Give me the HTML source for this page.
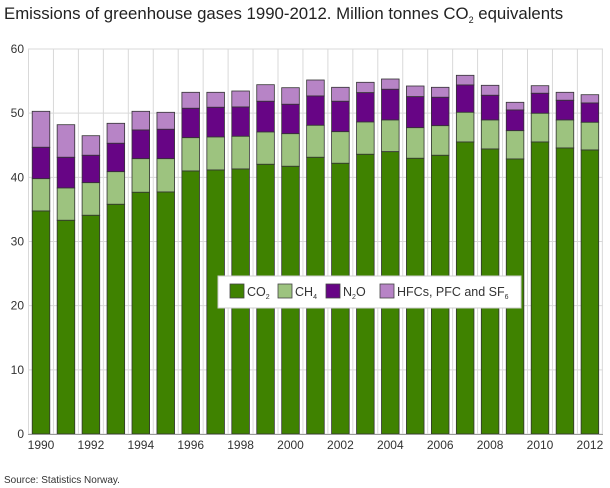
<!DOCTYPE html>
<html><head><meta charset="utf-8"><style>body{margin:0;background:#fff}svg{display:block;font-family:"Liberation Sans",sans-serif}</style></head><body>
<svg width="610" height="488" viewBox="0 0 610 488">
<text x="4" y="19" font-size="16.8" fill="#222">Emissions of greenhouse gases 1990-2012. Million tonnes CO<tspan font-size="9" dy="4">2</tspan><tspan dy="-4"> equivalents</tspan></text>
<g id="grid" stroke="#d9d9d9" stroke-width="1"></g>
<g id="bars" stroke="#333" stroke-width="0.8"></g>
<line x1="28" y1="434.5" x2="603" y2="434.5" stroke="#999" stroke-width="1"/>
<g id="labels" font-size="12" fill="#333"></g>
<rect x="218" y="276" width="303" height="32" fill="#fff" stroke="#ccc"/>
<g stroke="#444" stroke-width="0.8">
<rect x="230" y="284" width="14" height="14" fill="#3f8200"/>
<rect x="278" y="284" width="14" height="14" fill="#9dc37f"/>
<rect x="326" y="284" width="14" height="14" fill="#670585"/>
<rect x="380" y="284" width="14" height="14" fill="#b784c6"/>
</g>
<g font-size="12.5" fill="#333">
<text x="247" y="296">CO<tspan font-size="7" dy="3">2</tspan></text>
<text x="295" y="296">CH<tspan font-size="7" dy="3">4</tspan></text>
<text x="343" y="296">N<tspan font-size="7" dy="3">2</tspan><tspan dy="-3">O</tspan></text>
<text x="397" y="296">HFCs, PFC and SF<tspan font-size="7" dy="3">6</tspan></text>
</g>
<text x="4" y="483" font-size="10" fill="#333">Source: Statistics Norway.</text>
<script>
var d=[[111.3,147.3,178.7,211],[124.7,157.3,188,220.3],[135.7,155.3,182.7,215.3],[123.3,143.3,171.7,204.3],[111.3,130,158.7,192.3],[112.3,129.3,158.7,192],[92.3,108.3,137.7,171],[92.3,107.3,137,170],[91,107,136.3,169],[84.7,101.3,132,164.3],[87.7,104.3,133.7,166.3],[80,96,125.3,157.3],[87.3,101.3,131.7,163.3],[82.3,92.7,122,154.3],[79,89.3,120,151.7],[86,96.7,127.7,158.3],[87.3,97.3,125.7,155.3],[75.3,85,112.3,142],[85.3,95.3,120,149],[102.3,110,130.7,159],[85.7,93.3,113.3,142],[92.3,100.3,120,148],[94.7,103,122.3,150]];
var ns="http://www.w3.org/2000/svg";function el(p,t,a){var e=document.createElementNS(ns,t);for(var k in a)e.setAttribute(k,a[k]);p.appendChild(e);return e}
var g=document.getElementById('grid'),b=document.getElementById('bars'),l=document.getElementById('labels');
for(var i=0;i<=6;i++){var y=434-i*64.17;el(g,'line',{x1:28,x2:603,y1:y,y2:y});var t=el(l,'text',{x:24,y:y+4,'text-anchor':'end'});t.textContent=i*10;}
for(var i=0;i<=23;i++){var x=28.5+i*24.95;el(g,'line',{x1:x,x2:x,y1:49,y2:434});}
var c=['#b784c6','#670585','#9dc37f','#3f8200'];
for(var i=0;i<23;i++){var cx=41+i*24.95,x=cx-8.8,r=d[i].concat([434]);
for(var j=0;j<4;j++)el(b,'rect',{x:x,y:r[j],width:17.6,height:r[j+1]-r[j],fill:c[j]});
if(i%2==0){var t=el(l,'text',{x:cx,y:449,'text-anchor':'middle'});t.textContent=1990+i;}}
</script>
</svg>
</body></html>
